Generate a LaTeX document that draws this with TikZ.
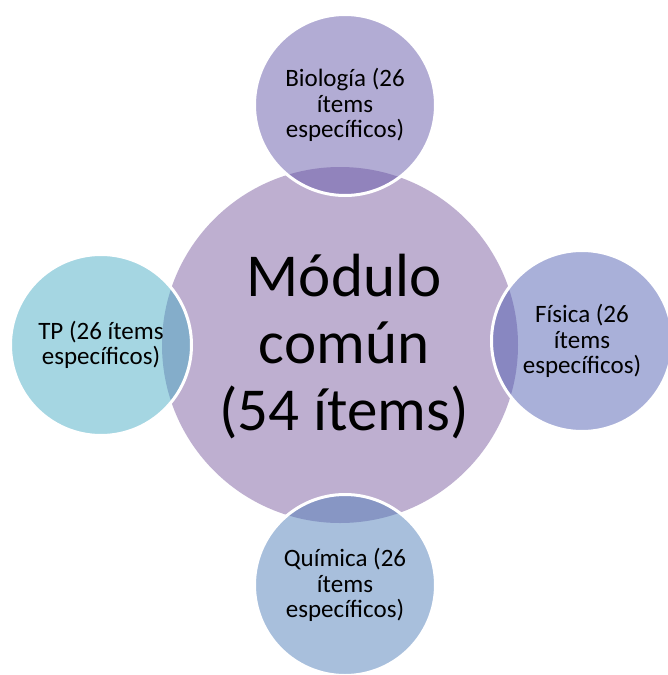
\documentclass[tikz,border=0pt]{standalone}
\usepackage{fontspec}
\setmainfont{Carlito}
\usetikzlibrary{positioning}
\definecolor{comun}{RGB}{190,175,208}
\definecolor{bio}{RGB}{101,89,169}
\definecolor{fis}{RGB}{83,97,179}
\definecolor{tp}{RGB}{75,173,197}
\definecolor{qui}{RGB}{81,127,185}
\begin{document}
\begin{tikzpicture}[x=1pt,y=-1pt,
	centro/.style={circle,fill=comun,inner sep=0pt,minimum size=356pt},
	area/.style={circle,draw=white,line width=3pt,fill opacity=0.5,text opacity=1,
		inner sep=0pt,minimum size=181pt,align=center,font=\fontsize{25}{25.5}\selectfont}]
	\useasboundingbox (0,0) rectangle (668,675);
	\node[centro] (comun) at (340,345) {};
	\node (comuntxt) at (344,347) [align=center,font=\fontsize{61}{67}\selectfont] {Módulo\\común\\(54 ítems)};
	\node[area,fill=bio] (bio) at (345,105) {Biología (26\\ítems\\específicos)};
	\node[area,fill=fis] (fis) at (582,341) {Física (26\\ítems\\específicos)};
	\node[area,fill=qui] (qui) at (345,585) {Química (26\\ítems\\específicos)};
	\node[area,fill=tp] (tp) at (101,345) {TP (26 ítems\\específicos)};
\end{tikzpicture}
\end{document}
